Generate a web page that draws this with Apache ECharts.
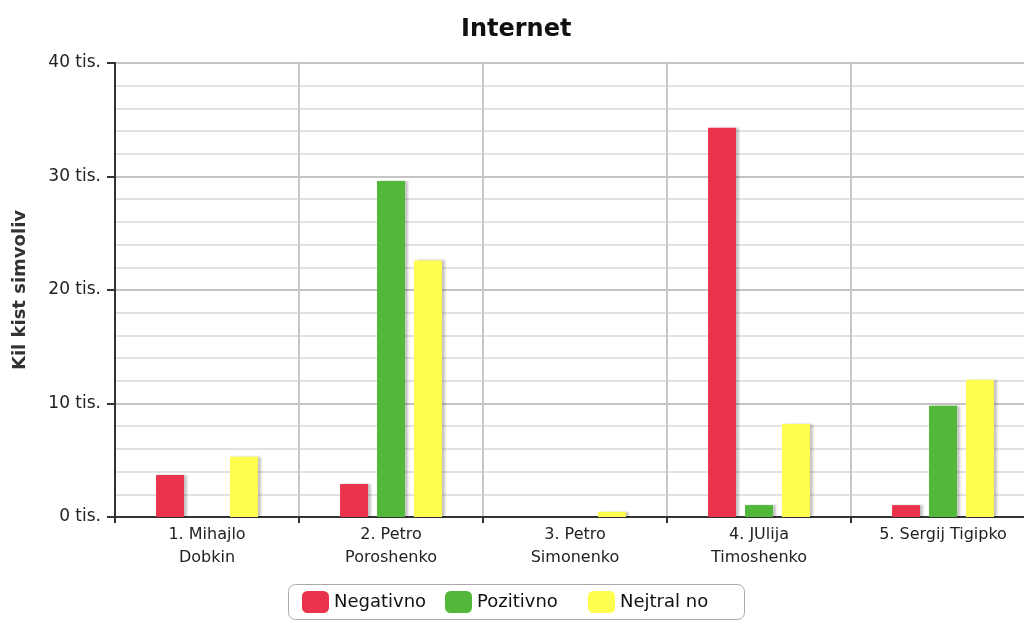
<!DOCTYPE html>
<html>
<head>
<meta charset="utf-8">
<script src="https://cdn.jsdelivr.net/npm/echarts@6/dist/echarts.min.js"></script>
<style>
  html, body { margin: 0; padding: 0; background: #fff; overflow: hidden; }
  #chart { width: 1040px; height: 626px; }
</style>
</head>
<body>
<div id="chart"></div>
<script>
// Candidates and symbol counts (thousands of symbols) per sentiment
const categories = ['1. Mihajlo\nDobkin', '2. Petro\nPoroshenko', '3. Petro\nSimonenko', '4. JUlija\nTimoshenko', '5. Sergij Tigipko'];
const negativno = [3700, 2900, 0, 34300, 1050];
const pozitivno = [0, 29600, 0, 1050, 9800];
const nejtralno = [5300, 22600, 450, 8200, 12100];
const seriesNames = ['Negativno', 'Pozitivno', 'Nejtral no'];
const colors = ['#E9334A', '#52B83A', '#FEFE4E'];

const FONT = 'DejaVu Sans';

// Legend: one entry per equal-width slot inside a rounded frame
const LEGEND_LEFT = 302;
const LEGEND_SLOT = 143;
const legends = seriesNames.map((name, i) => ({
  data: [name],
  left: LEGEND_LEFT + i * LEGEND_SLOT,
  top: 591,
  padding: 0,
  itemWidth: 27,
  itemHeight: 22,
  icon: 'roundRect',
  textStyle: { fontFamily: FONT, fontSize: 18, color: '#111' }
}));

function barSeries(name, data, color) {
  return {
    name: name,
    type: 'bar',
    data: data,
    barWidth: 28,
    barGap: '32%',
    z: 5,
    itemStyle: {
      color: color,
      shadowColor: 'rgba(0,0,0,0.22)',
      shadowBlur: 2,
      shadowOffsetX: 3,
      shadowOffsetY: 0
    },
    emphasis: { disabled: true }
  };
}

const chart = echarts.init(document.getElementById('chart'), null, { renderer: 'canvas' });
chart.setOption({
  animation: false,
  textStyle: { fontFamily: FONT },
  title: {
    text: 'Internet',
    left: 456,
    top: 13,
    textStyle: { fontFamily: FONT, fontSize: 24, fontWeight: 'bold', color: '#111' }
  },
  legend: legends,
  graphic: [{
    type: 'rect',
    silent: true,
    shape: { x: 288.5, y: 584.5, width: 456, height: 35, r: 7 },
    style: { fill: 'none', stroke: '#aaa', lineWidth: 1 }
  }],
  grid: { left: 115, top: 63, width: 920, height: 454, containLabel: false },
  xAxis: {
    type: 'category',
    data: categories,
    z: 1,
    axisLine: { lineStyle: { color: '#333', width: 2 } },
    axisTick: { show: true, length: 6, lineStyle: { color: '#333', width: 2 } },
    axisLabel: { fontFamily: FONT, fontSize: 16, color: '#222', lineHeight: 23, margin: 6 },
    splitLine: { show: true, lineStyle: { color: '#c8c8c8', width: 2 } }
  },
  yAxis: [
    {
      type: 'value',
      min: 0,
      max: 40000,
      interval: 10000,
      name: 'Kil kist simvoliv',
      nameLocation: 'middle',
      nameGap: 86,
      nameTextStyle: { fontFamily: FONT, fontSize: 18, fontWeight: 'bold', color: '#333' },
      axisLine: { show: true, lineStyle: { color: '#333', width: 2 } },
      axisTick: { show: true, length: 8, lineStyle: { color: '#333', width: 2 } },
      axisLabel: {
        fontFamily: FONT, fontSize: 17, color: '#222', margin: 14,
        formatter: v => (v / 1000) + ' tis.'
      },
      splitLine: { show: true, lineStyle: { color: '#c4c4c4', width: 2 } },
      z: 1
    },
    {
      type: 'value',
      min: 0,
      max: 40000,
      interval: 2000,
      position: 'left',
      axisLine: { show: false },
      axisTick: { show: false },
      axisLabel: { show: false },
      splitLine: { show: true, lineStyle: { color: '#e2e2e2', width: 2 } },
      z: 0
    }
  ],
  series: [
    barSeries(seriesNames[0], negativno, colors[0]),
    barSeries(seriesNames[1], pozitivno, colors[1]),
    barSeries(seriesNames[2], nejtralno, colors[2])
  ]
});
</script>
</body>
</html>
